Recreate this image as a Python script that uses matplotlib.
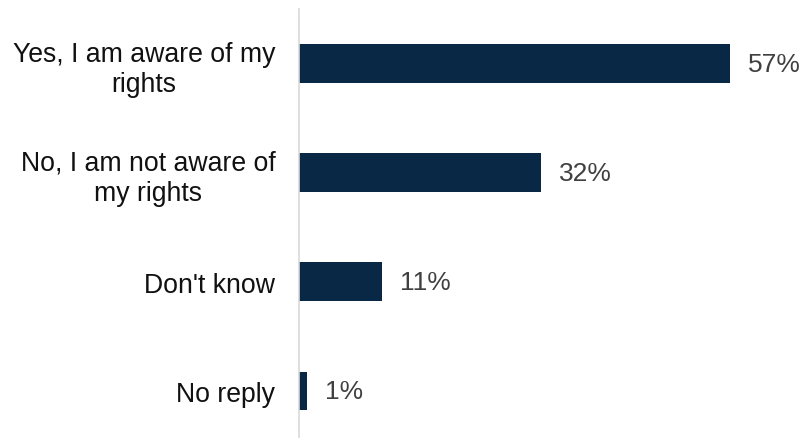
import matplotlib.pyplot as plt

categories = ["Yes, I am aware of my\nrights", "No, I am not aware of\nmy rights", "Don't know", "No reply"]
values = [57, 32, 11, 1]
labels = ["57%", "32%", "11%", "1%"]

plt.rcParams['font.family'] = ['Liberation Sans', 'DejaVu Sans']

fig = plt.figure(figsize=(8.03, 4.39), dpi=100)
ax = fig.add_axes([299/803, 0, 491/803, 429/439])

pos = list(range(len(values)))
ax.barh(pos, values, height=0.356, color='#082846')
for p, v, t in zip(pos, values, labels):
    ax.text(v + 2.4, p, t, va='center', ha='left', fontsize=19, color='#404040')

ax.set_xlim(0, 65)
ax.set_ylim(3.43, -0.5)
ax.set_yticks(pos)
ax.set_yticklabels(categories, fontsize=19.2, color='#111111', multialignment='center', linespacing=1.22)
ax.tick_params(axis='y', length=0, pad=17)
ax.set_xticks([])
for s in ['top', 'right', 'bottom']:
    ax.spines[s].set_visible(False)
ax.spines['left'].set_color('#d9d9d9')
ax.spines['left'].set_linewidth(1.2)

fig.savefig('out.png', dpi=100)
